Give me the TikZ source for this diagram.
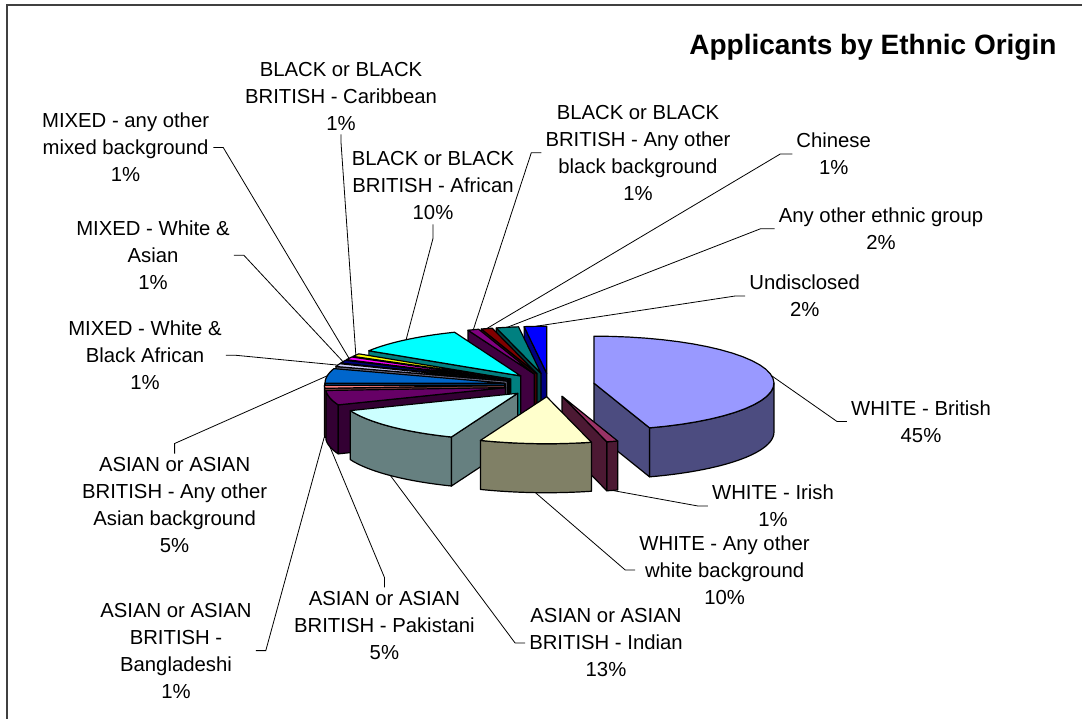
\documentclass[tikz,border=0pt]{standalone}
\usepackage{fontspec}
\setmainfont{Liberation Sans}
\usetikzlibrary{calc}
\tikzset{>=latex}
\definecolor{cbritish}{RGB}{153,153,255}
\definecolor{cirish}{RGB}{153,51,102}
\definecolor{cwhiteother}{RGB}{255,255,204}
\definecolor{cindian}{RGB}{204,255,255}
\definecolor{cpakistani}{RGB}{102,0,102}
\definecolor{cbangla}{RGB}{255,128,128}
\definecolor{casianother}{RGB}{0,102,204}
\definecolor{cmixedba}{RGB}{204,204,255}
\definecolor{cmixeda}{RGB}{0,0,128}
\definecolor{cmixedother}{RGB}{255,0,255}
\definecolor{ccaribbean}{RGB}{255,255,0}
\definecolor{cafrican}{RGB}{0,255,255}
\definecolor{cblackother}{RGB}{128,0,128}
\definecolor{cchinese}{RGB}{128,0,0}
\definecolor{canyother}{RGB}{0,128,128}
\definecolor{cundisclosed}{RGB}{0,0,255}
\newcommand{\chartfont}{\fontsize{20.3}{27}\selectfont}
\tikzset{
  slice/.style = {draw=black, line width=1.2pt, line join=round},
  leader/.style = {draw=black, line width=0.8pt},
  lbl/.style = {align=center, inner sep=4pt, font=\chartfont}
}
% pie in pixel units, y pointing down
\def\piecx{549.5}\def\piecy{385}\def\pierx{180}\def\piery{47}\def\piedp{49}\def\pieex{0.25}
\newcommand{\pieslice}[4]{%
  \pgfmathsetmacro\piemid{(#2+#3)/2}%
  \pgfmathsetmacro\pieox{\piecx+\pieex*\pierx*cos(\piemid)}%
  \pgfmathsetmacro\pieoy{\piecy-\pieex*\piery*sin(\piemid)}%
  \pgfmathsetmacro\piesa{min(#2,0)}%
  \pgfmathsetmacro\piesb{max(#3,-180)}%
  \pgfmathtruncatemacro\pieside{(\piesa>\piesb)?1:0}%
  \ifnum\pieside=1
    \filldraw[slice, fill=#4!50!black] plot[domain=\piesb:\piesa, samples=30] ({\pieox+\pierx*cos(\x)},{\pieoy-\piery*sin(\x)})
      -- plot[domain=\piesb:\piesa, samples=30] ({\pieox+\pierx*cos(\piesa+\piesb-\x)},{\pieoy-\piery*sin(\piesa+\piesb-\x)+\piedp}) -- cycle;
  \fi
  \pgfmathtruncatemacro\piecuta{(cos(#2)<-0.01)?1:0}%
  \ifnum\piecuta=1
    \filldraw[slice, fill=#4!50!black] (\pieox,\pieoy) -- ++({\pierx*cos(#2)},{-\piery*sin(#2)}) -- ++(0,\piedp) -- (\pieox,{\pieoy+\piedp}) -- cycle;
  \fi
  \pgfmathtruncatemacro\piecutb{(cos(#3)>0.01)?1:0}%
  \ifnum\piecutb=1
    \filldraw[slice, fill=#4!50!black] (\pieox,\pieoy) -- ++({\pierx*cos(#3)},{-\piery*sin(#3)}) -- ++(0,\piedp) -- (\pieox,{\pieoy+\piedp}) -- cycle;
  \fi
  \filldraw[slice, fill=#4] (\pieox,\pieoy) -- plot[domain=#3:#2, samples=30] ({\pieox+\pierx*cos(\x)},{\pieoy-\piery*sin(\x)}) -- cycle;
  \pgfmathsetmacro\pielx{\pieox+\pierx*cos(\piemid)}%
  \pgfmathsetmacro\piely{\pieoy-\piery*sin(\piemid)+(sin(\piemid)<0)*\piedp}%
  \coordinate (#1) at (\pielx,\piely);
}

\begin{document}
\begin{tikzpicture}[x=1pt, y=-1pt]
\useasboundingbox (0,0) rectangle (1082,719);
\clip (0,0) rectangle (1082,719);
\draw[line width=2pt, black!75] (6.7,4.7) rectangle (1100,740);

\node[anchor=base east, font=\bfseries\fontsize{28}{34}\selectfont] (title) at (1060,55) {Applicants by Ethnic Origin};

\pieslice{pUndisclosed}{97.2}{90}{cundisclosed}
\pieslice{pAnyOther}{104.4}{97.2}{canyother}
\pieslice{pChinese}{108}{104.4}{cchinese}
\pieslice{pBlackOther}{111.6}{108}{cblackother}
\pieslice{pAfrican}{147.6}{111.6}{cafrican}
\pieslice{pCaribbean}{151.2}{147.6}{ccaribbean}
\pieslice{pMixedOther}{154.8}{151.2}{cmixedother}
\pieslice{pMixedA}{158.4}{154.8}{cmixeda}
\pieslice{pMixedBA}{162}{158.4}{cmixedba}
\pieslice{pAsianOther}{180}{162}{casianother}
\pieslice{pBritish}{90}{-72}{cbritish}
\pieslice{pBangla}{-176.4}{-180}{cbangla}
\pieslice{pPakistani}{-158.4}{-176.4}{cpakistani}
\pieslice{pIndian}{-111.6}{-158.4}{cindian}
\pieslice{pIrish}{-72}{-75.6}{cirish}
\pieslice{pWhiteOther}{-75.6}{-111.6}{cwhiteother}

\node[lbl] (lBritish) at (921,421.4) {WHITE - British\\45\%};
\node[lbl] (lIrish) at (773,506) {WHITE - Irish\\1\%};
\node[lbl] (lWhiteOther) at (724.6,570) {WHITE - Any other\\white background\\10\%};
\node[lbl] (lIndian) at (606,643) {ASIAN or ASIAN\\BRITISH - Indian\\13\%};
\node[lbl] (lPakistani) at (384.4,625.7) {ASIAN or ASIAN\\BRITISH - Pakistani\\5\%};
\node[lbl] (lBangla) at (176,650.6) {ASIAN or ASIAN\\BRITISH -\\Bangladeshi\\1\%};
\node[lbl] (lAsianOther) at (174.6,505.4) {ASIAN or ASIAN\\BRITISH - Any other\\Asian background\\5\%};
\node[lbl] (lMixedBA) at (145,355.3) {MIXED - White \&\\Black African\\1\%};
\node[lbl] (lMixedA) at (153,255.3) {MIXED - White \&\\Asian\\1\%};
\node[lbl] (lMixedOther) at (125.6,147.6) {MIXED - any other\\mixed background\\1\%};
\node[lbl] (lCaribbean) at (341,96) {BLACK or BLACK\\BRITISH - Caribbean\\1\%};
\node[lbl] (lAfrican) at (433,186) {BLACK or BLACK\\BRITISH - African\\10\%};
\node[lbl] (lBlackOther) at (638,152.8) {BLACK or BLACK\\BRITISH - Any other\\black background\\1\%};
\node[lbl] (lChinese) at (833.7,154) {Chinese\\1\%};
\node[lbl] (lAnyOther) at (881,228.7) {Any other ethnic group\\2\%};
\node[lbl] (lUndisclosed) at (804.7,296) {Undisclosed\\2\%};

\draw[leader] (pBritish) -- ([xshift=-10pt]lBritish.west) -- (lBritish.west);
\draw[leader] (pIrish) -- ([xshift=-10pt]lIrish.west) -- (lIrish.west);
\draw[leader] (pWhiteOther) -- ([xshift=-10pt]lWhiteOther.west) -- (lWhiteOther.west);
\draw[leader] (pIndian) -- ([xshift=-10pt]lIndian.west) -- (lIndian.west);
\draw[leader] (pPakistani) -- ([yshift=10pt]lPakistani.north) -- (lPakistani.north);
\draw[leader] (pBangla) -- ([xshift=10pt]lBangla.east) -- (lBangla.east);
\draw[leader] (pAsianOther) -- ([yshift=10pt]lAsianOther.north) -- (lAsianOther.north);
\draw[leader] (pMixedBA) -- ([xshift=10pt]lMixedBA.east) -- (lMixedBA.east);
\draw[leader] (pMixedA) -- ([xshift=10pt]lMixedA.east) -- (lMixedA.east);
\draw[leader] (pMixedOther) -- ([xshift=10pt]lMixedOther.east) -- (lMixedOther.east);
\draw[leader] (pCaribbean) -- ([yshift=-8pt]lCaribbean.south) -- (lCaribbean.south);
\draw[leader] (pAfrican) -- ([yshift=-14pt]lAfrican.south) -- (lAfrican.south);
\draw[leader] (pBlackOther) -- ([xshift=-10pt]lBlackOther.west) -- (lBlackOther.west);
\draw[leader] (pChinese) -- ([xshift=-12pt]lChinese.west) -- (lChinese.west);
\draw[leader] (pAnyOther) -- ([xshift=-14pt]lAnyOther.west) -- (lAnyOther.west);
\draw[leader] (pUndisclosed) -- ([xshift=-10pt]lUndisclosed.west) -- (lUndisclosed.west);
\end{tikzpicture}
\end{document}
